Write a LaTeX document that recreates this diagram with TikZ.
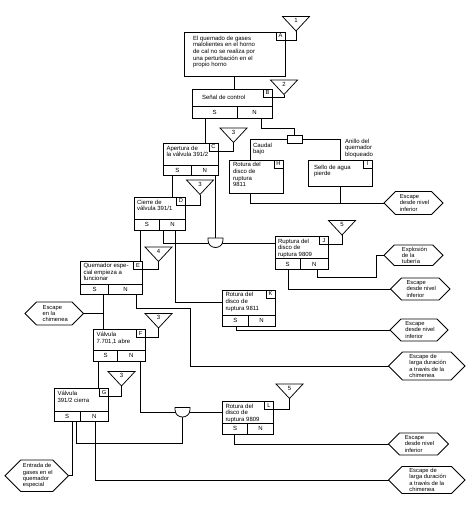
\documentclass[tikz,border=0pt]{standalone}
\usepackage{fontspec}
\setmainfont{Liberation Sans}
\tikzset{
 base/.style={inner sep=0pt, outer sep=0pt, anchor=north west},
 cell/.style={base, draw, rectangle},
 lettr/.style={draw, rectangle, inner sep=0pt, outer sep=0pt, anchor=north east, minimum width=9pt, minimum height=8pt, font=\fontsize{5.7}{6}\selectfont},
 txt/.style={inner sep=0pt, outer sep=0pt, anchor=north west, align=left, font=\fontsize{6}{6.6}\selectfont},
 snlab/.style={font=\fontsize{6}{6.6}\selectfont},
 htxt/.style={inner sep=0pt, align=left, font=\fontsize{5.8}{6.2}\selectfont},
}
% box with letter: name, x1, y1, x2, y2, letter
\newcommand\ebox[6]{%
 \node[cell, minimum width={#4-#2}, minimum height={#5-#3}] (#1) at (#2,#3) {};
 \node[lettr] (#1l) at (#4,#3) {#6};
}
% S/N row: name, x1, xdiv, x2, y1, y2
\newcommand\snrow[6]{%
 \node[cell, minimum width={#3-#2}, minimum height={#6-#5}, snlab] (#1s) at (#2,#5) {S};
 \node[cell, minimum width={#4-#3}, minimum height={#6-#5}, snlab] (#1n) at (#3,#5) {N};
}
% transfer triangle: name, xc, ytop, label
\newcommand\trn[4]{%
 \draw (#2-13.5,#3) -- (#2+13.5,#3) -- (#2,#3+14.5) -- cycle;
 \node[snlab, inner sep=0pt] (#1) at (#2,#3+4.3) {#4};
 \coordinate (#1a) at (#2,#3+14.5);
}
% hexagon: name, x1, y1, x2, y2, text
\newcommand\hexa[6]{%
 \draw (#2,#3/2+#5/2) -- (#2+#5/2-#3/2,#3) -- (#4-#5/2+#3/2,#3) -- (#4,#3/2+#5/2) -- (#4-#5/2+#3/2,#5) -- (#2+#5/2-#3/2,#5) -- cycle;
 \node[htxt] (#1) at (#2/2+#4/2+1,#3/2+#5/2) {#6};
 \coordinate (#1w) at (#2,#3/2+#5/2);
 \coordinate (#1e) at (#4,#3/2+#5/2);
}
% AND gate shape: xc, yline
\newcommand\gatedraw[2]{%
 \draw[fill=white] (#1-7.5,#2-5) -- (#1+7.5,#2-5) -- (#1+7.5,#2-3) .. controls (#1+7.5,#2+7) and (#1-7.5,#2+7) .. (#1-7.5,#2-3) -- cycle;
}
\begin{document}
\begin{tikzpicture}[x=1pt,y=-1pt,line width=0.75pt]
\useasboundingbox (0,0) rectangle (475,525);

% ---- boxes ----
\ebox{A}{184}{32}{285}{76}{A}
\node[txt] (At) at (193,36) {El quemado de gases\\malolientes en el horno\\de cal no se realiza por\\una perturbación en el\\propio horno};

\ebox{B}{192}{89}{272}{106}{B}
\node[txt] (Bt) at (202,95) {Señal de control};
\snrow{B}{192}{237}{272}{106}{118}

\ebox{C}{163}{143}{218}{165.5}{C}
\node[txt] (Ct) at (166.5,146) {Apertura de\\la válvula 391/2};
\snrow{C}{163}{191.5}{218}{165.5}{175.5}

\ebox{D}{134}{197}{185.5}{219.5}{D}
\node[txt] (Dt) at (137,200) {Cierre de\\válvula 391/1};
\snrow{D}{134}{159.5}{185.5}{219.5}{230}

\ebox{E}{80.5}{261.5}{142.5}{284.5}{E}
\node[txt, font=\fontsize{6}{6.2}\selectfont] (Et) at (83.5,263.5) {Quemador espe-\\cial empieza a\\funcionar};
\snrow{E}{80.5}{108.5}{142.5}{284.5}{294.5}

\ebox{F}{93.5}{329.5}{145}{350}{F}
\node[txt] (Ft) at (96.5,332.5) {Válvula\\7.701,1 abre};
\snrow{F}{93.5}{117.5}{145}{350}{361.5}

\ebox{G}{54.5}{388.5}{108.5}{411.5}{G}
\node[txt] (Gt) at (57.5,391.5) {Válvula\\391/2 cierra};
\snrow{G}{54.5}{80}{108.5}{411.5}{421.5}

\ebox{H}{229}{160}{283}{193}{H}
\node[txt] (Ht) at (233,162.5) {Rotura del\\disco de\\ruptura\\9811};

\ebox{I}{308}{160}{372}{186.5}{I}
\node[txt] (It) at (314,165) {Sello de agua\\pierde};

\ebox{J}{275}{236.5}{328.5}{258.5}{J}
\node[txt] (Jt) at (278,239) {Ruptura del\\disco de\\ruptura 9809};
\snrow{J}{275}{300}{328.5}{258.5}{269.5}

\ebox{K}{222.5}{290}{275}{315}{K}
\node[txt] (Kt) at (225.5,292.5) {Rotura del\\disco de\\ruptura 9811};
\snrow{K}{222.5}{248}{275}{315}{326}

\ebox{L}{222.5}{401.5}{273.5}{423.5}{L}
\node[txt] (Lt) at (225.5,404) {Rotura del\\disco de\\ruptura 9809};
\snrow{L}{222.5}{247.5}{273.5}{423.5}{434}

\node[cell, anchor=center, minimum width=15, minimum height=8] (R) at (294.5,139) {};
\node[txt] (caudal) at (253,143) {Caudal\\bajo};
\node[txt] (anillo) at (345,139) {Anillo del\\quemador\\bloqueado};

% ---- triangles ----
\trn{Ta}{296}{16.5}{1}
\trn{Tb}{284}{80}{2}
\trn{Tc}{233.5}{128}{3}
\trn{Td}{200}{180}{3}
\trn{Te}{158.5}{247}{4}
\trn{Tf}{158.5}{313.5}{3}
\trn{Tg}{121.5}{371.5}{3}
\trn{Tj}{342}{220.5}{5}
\trn{Tl}{289.5}{384}{5}

% ---- hexagons ----
\hexa{X1}{384}{191.5}{443}{214.5}{Escape\\desde nivel\\inferior}
\hexa{X2}{384}{245}{443}{265.5}{Explosión\\de la\\tubería}
\hexa{X3}{390.5}{278}{450}{300}{Escape\\desde nivel\\inferior}
\hexa{X4}{390}{319}{448}{341}{Escape\\desde nivel\\inferior}
\hexa{X5}{388.5}{352}{465}{380}{Escape de\\larga duración\\a través de la\\chimenea}
\hexa{X6}{388.5}{433}{448.5}{455}{Escape\\desde nivel\\inferior}
\hexa{X7}{388.5}{466.5}{465}{493.5}{Escape de\\larga duración\\a través de la\\chimenea}
\hexa{X8}{25}{302}{83.5}{325}{Escape\\en la\\chimenea}
\hexa{X9}{5}{460}{68.5}{491.5}{Entrada de\\gases en el\\quemador\\especial}

% ---- gate coordinates ----
\coordinate (and1t) at (215.5,238);
\coordinate (and2b) at (182.5,417);

% ---- connectors ----
\draw (Taa) |- (Al.south east);
\draw (Tba) |- (Bl.south east);
\draw (Tca) |- (Cl.south east);
\draw (Tda) |- (Dl.south east);
\draw (Tea) |- (El.south east);
\draw (Tfa) |- (Fl.south east);
\draw (Tga) |- (Gl.south east);
\draw (Tja) |- (Jl.south east);
\draw (Tla) |- (Ll.south east);

\draw (A.south) -- (A.south |- B.north);

\coordinate (bS) at ([xshift=13pt]Bs.south west);
\draw (bS) -- (bS |- C.north);
\coordinate (bN) at ([xshift=24pt]Bn.south west);
\draw (bN) -- ([yshift=-10pt]bN) -| (R.north);

\coordinate (hT) at ([xshift=21pt]H.north west);
\coordinate (iT) at ([xshift=32pt]I.north west);
\draw (R.west) -| (hT);
\draw (R.east) -| (iT);
\coordinate (hB) at ([xshift=21pt]H.south west);
\coordinate (iB) at ([xshift=32pt]I.south west);
\draw (hB) |- (X1w);
\draw (iB) -- (iB |- X1w);

\coordinate (cS) at ([xshift=9pt]Cs.south west);
\draw (cS) -- (cS |- D.north);
\coordinate (cN) at ([xshift=24pt]Cn.south west);
\draw (cN) -- (and1t);

\coordinate (dS) at ([xshift=6pt]Ds.south west);
\draw (dS) -- (dS |- E.north);
\coordinate (dN1) at ([xshift=4pt]Dn.south west);
\coordinate (jIn) at ([yshift=-6.5pt]J.north west);
\draw (dN1) |- (jIn);
\coordinate (dN2) at ([xshift=15.5pt]Dn.south west);
\draw (dN2) |- (K.west);

\coordinate (eS) at ([xshift=23pt]Es.south west);
\draw (eS) -- (eS |- F.north);
\draw (X8e) -- (X8e -| eS);
\coordinate (eN) at ([xshift=28pt]En.south west);
\coordinate (eJ) at ([yshift=-14pt]eN);
\draw (eN) -- (eJ) -- ++(53.5,0) |- (X5w);

\coordinate (fS) at ([xshift=5pt]Fs.south west);
\draw (fS) -- (fS |- G.north);
\coordinate (fN) at ([xshift=23pt]Fn.south west);
\draw (fN) |- (L.west);

\coordinate (gS1) at ([xshift=18pt]Gs.south west);
\draw (gS1) |- (X9e);
\coordinate (gS2) at ([xshift=22pt]Gs.south west);
\draw (gS2) -- ++(0,22) -| (and2b);
\coordinate (gN) at ([xshift=15pt]Gn.south west);
\draw (gN) |- (X7w);

\coordinate (jN) at ([xshift=17pt]Jn.south west);
\draw (jN) -- ++(0,8) -- ++(59.5,0) |- (X2w);
\coordinate (jS) at ([xshift=13pt]Js.south west);
\draw (jS) |- (X3w);
\coordinate (kS) at ([xshift=14pt]Ks.south west);
\draw (kS) |- (X4w);
\coordinate (lS) at ([xshift=12pt]Ls.south west);
\draw (lS) |- (X6w);

% ---- AND gates (on top) ----
\gatedraw{215.5}{243}
\gatedraw{182.5}{412.5}
\end{tikzpicture}
\end{document}
